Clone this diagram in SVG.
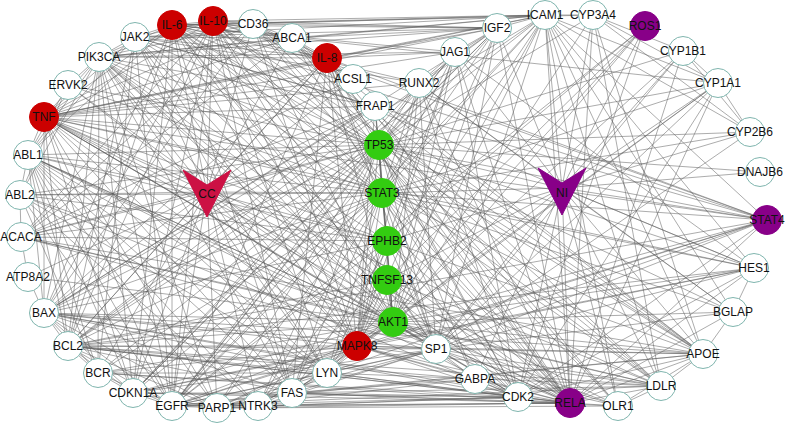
<svg xmlns="http://www.w3.org/2000/svg" width="786" height="423" viewBox="0 0 786 423">
<style>
.e{fill:none;stroke:#5a5a5a;stroke-width:0.6;stroke-opacity:0.85}
.node circle{stroke:#7fb5ae;stroke-width:1;fill:#fff}
.node.red circle{fill:#cc0000;stroke:#cc0000}
.node.green circle{fill:#33cc11;stroke:#33cc11}
.node.purple circle,.node.purple polygon{fill:#880088;stroke:#880088}
.node.crimson polygon{fill:#cc1144;stroke:#cc1144}
text{font-family:"Liberation Sans",Arial,sans-serif;font-size:12px;fill:#111;text-anchor:middle}
</style>
<rect width="786" height="423" fill="#fff"/>
<g id="connectors">
<path class="e" d="M207 192L44 117M207 192L68 85M207 192L99 57M207 192L135 37M207 192L172 25M207 192L213 21M207 192L253 24M207 192L292 38M207 192L327 58M207 192L353 79M207 192L375 106M207 192L28 155M207 192L20 195M207 192L21 237M207 192L28 277M207 192L44 313M207 192L68 346M207 192L98 373M207 192L133 393M207 192L172 406M207 192L217 408M207 192L258 406M207 192L292 393M207 192L327 373M207 192L357 346M207 192L379 145M207 192L382 193M207 192L387 241M207 192L387 280M207 192L393 322"/>
<path class="e" d="M562 188L419 83M562 188L455 52M562 188L497 28M562 188L545 15M562 188L593 15M562 188L645 26M562 188L683 51M562 188L718 83M562 188L750 132M562 188L760 172M562 188L767 220M562 188L754 268M562 188L733 312M562 188L703 354M562 188L661 386M562 188L618 406M562 188L570 403M562 188L518 397M562 188L475 379M562 188L436 349M562 188L379 145M562 188L382 193M562 188L387 241M562 188L387 280M562 188L393 322"/>
<path class="e" d="M44 117L172 25M44 117L213 21M44 117L327 58M44 117L545 15M44 117L497 28M44 117L253 24M44 117L292 38M44 117L135 37M44 117L99 57M44 117L28 155M44 117L44 313M44 117L68 346M44 117L292 393M44 117L357 346M44 117L393 322M44 117L379 145M44 117L382 193M44 117L570 403M44 117L172 406M44 117L133 393M44 117L703 354M44 117L661 386M44 117L767 220M44 117L436 349M44 117L518 397M44 117L217 408M44 117L327 373M44 117L375 106M44 117L754 268M44 117L353 79M44 117L455 52M44 117L419 83M44 117L618 406"/>
<path class="e" d="M172 25L213 21M172 25L327 58M172 25L545 15M172 25L497 28M172 25L135 37M172 25L99 57M172 25L382 193M172 25L379 145M172 25L393 322M172 25L357 346M172 25L570 403M172 25L68 346M172 25L44 313M172 25L172 406M172 25L133 393M172 25L292 393M172 25L767 220M172 25L703 354M172 25L661 386M172 25L436 349M172 25L253 24M172 25L292 38M172 25L718 83M172 25L593 15M172 25L387 280M172 25L754 268M172 25L28 155M172 25L455 52M172 25L419 83"/>
<path class="e" d="M213 21L327 58M213 21L545 15M213 21L497 28M213 21L135 37M213 21L382 193M213 21L767 220M213 21L393 322M213 21L357 346M213 21L570 403M213 21L68 346M213 21L44 313M213 21L292 393M213 21L379 145M213 21L253 24M213 21L292 38M213 21L703 354M213 21L661 386M213 21L172 406M213 21L99 57M213 21L327 373M213 21L21 237M213 21L133 393M213 21L436 349"/>
<path class="e" d="M253 24L545 15M253 24L292 38M253 24L327 58M253 24L703 354M253 24L661 386M253 24L618 406M253 24L353 79M253 24L393 322M253 24L357 346M253 24L570 403M253 24L99 57M253 24L21 237M253 24L44 313M253 24L497 28"/>
<path class="e" d="M292 38L545 15M292 38L497 28M292 38L703 354M292 38L661 386M292 38L618 406M292 38L327 58M292 38L21 237M292 38L570 403M292 38L382 193M292 38L353 79M292 38L135 37M292 38L99 57"/>
<path class="e" d="M327 58L545 15M327 58L497 28M327 58L455 52M327 58L570 403M327 58L382 193M327 58L379 145M327 58L393 322M327 58L357 346M327 58L172 406M327 58L68 346M327 58L99 57M327 58L135 37M327 58L292 393M327 58L518 397M327 58L436 349M327 58L618 406M327 58L703 354M327 58L767 220M327 58L44 313"/>
<path class="e" d="M135 37L382 193M135 37L767 220M135 37L99 57M135 37L393 322M135 37L172 406M135 37L28 155M135 37L327 373M135 37L379 145M135 37L357 346M135 37L545 15M135 37L497 28M135 37L98 373M135 37L419 83M135 37L375 106M135 37L518 397M135 37L68 346"/>
<path class="e" d="M99 57L393 322M99 57L172 406M99 57L375 106M99 57L379 145M99 57L382 193M99 57L357 346M99 57L28 155M99 57L20 195M99 57L327 373M99 57L68 346M99 57L44 313M99 57L133 393M99 57L497 28M99 57L545 15M99 57L570 403M99 57L518 397M99 57L217 408M99 57L387 241M99 57L68 85M99 57L455 52M99 57L292 393M99 57L98 373M99 57L436 349"/>
<path class="e" d="M68 85L28 155M68 85L20 195M68 85L379 145M68 85L382 193M68 85L393 322"/>
<path class="e" d="M28 155L20 195M28 155L98 373M28 155L172 406M28 155L379 145M28 155L393 322M28 155L357 346M28 155L382 193M28 155L327 373M28 155L68 346M28 155L44 313M28 155L133 393M28 155L518 397M28 155L217 408M28 155L387 241M28 155L570 403M28 155L436 349M28 155L258 406M28 155L292 393"/>
<path class="e" d="M20 195L98 373M20 195L172 406M20 195L387 241M20 195L327 373M20 195L382 193M20 195L21 237M20 195L258 406M20 195L518 397M20 195L379 145M20 195L393 322"/>
<path class="e" d="M21 237L28 277M21 237L353 79M21 237L375 106M21 237L393 322M21 237L703 354M21 237L661 386M21 237L436 349M21 237L379 145M21 237L387 241M21 237L382 193M28 277L44 313M28 277L393 322"/>
<path class="e" d="M44 313L68 346M44 313L379 145M44 313L393 322M44 313L357 346M44 313L292 393M44 313L133 393M44 313L217 408M44 313L570 403M44 313L382 193M44 313L436 349M44 313L518 397M44 313L172 406M44 313L327 373M44 313L98 373M44 313L545 15M44 313L497 28M44 313L375 106M44 313L703 354M44 313L387 241"/>
<path class="e" d="M68 346L379 145M68 346L393 322M68 346L357 346M68 346L292 393M68 346L133 393M68 346L217 408M68 346L570 403M68 346L382 193M68 346L436 349M68 346L518 397M68 346L172 406M68 346L327 373M68 346L98 373M68 346L545 15M68 346L497 28M68 346L767 220M68 346L754 268M68 346L661 386M68 346L475 379M68 346L387 280M68 346L375 106"/>
<path class="e" d="M98 373L172 406M98 373L327 373M98 373L382 193M98 373L518 397M98 373L570 403M98 373L393 322M98 373L357 346M98 373L379 145M98 373L133 393"/>
<path class="e" d="M133 393L379 145M133 393L518 397M133 393L393 322M133 393L357 346M133 393L382 193M133 393L172 406M133 393L436 349M133 393L217 408M133 393L570 403M133 393L292 393M133 393L455 52M133 393L419 83M133 393L754 268M133 393L497 28"/>
<path class="e" d="M172 406L393 322M172 406L382 193M172 406L357 346M172 406L379 145M172 406L327 373M172 406L436 349M172 406L518 397M172 406L217 408M172 406L387 241M172 406L258 406M172 406L292 393M172 406L570 403M172 406L545 15M172 406L497 28M172 406L455 52M172 406L419 83M172 406L645 26M172 406L767 220M172 406L703 354M172 406L661 386"/>
<path class="e" d="M217 408L379 145M217 408L393 322M217 408L357 346M217 408L570 403M217 408L436 349M217 408L518 397M217 408L292 393M217 408L327 373M217 408L382 193M217 408L475 379M217 408L618 406"/>
<path class="e" d="M258 406L327 373M258 406L393 322M258 406L357 346M258 406L382 193M258 406L570 403M258 406L518 397M258 406L436 349M258 406L387 241M258 406L645 26M258 406L379 145"/>
<path class="e" d="M292 393L379 145M292 393L393 322M292 393L357 346M292 393L570 403M292 393L436 349M292 393L518 397M292 393L327 373M292 393L382 193M292 393L545 15M292 393L703 354M292 393L661 386M292 393L618 406M292 393L475 379"/>
<path class="e" d="M327 373L393 322M327 373L357 346M327 373L382 193M327 373L436 349M327 373L518 397M327 373L570 403M327 373L387 241M327 373L387 280M327 373L645 26M327 373L767 220M327 373L661 386"/>
<path class="e" d="M357 346L393 322M357 346L379 145M357 346L382 193M357 346L570 403M357 346L436 349M357 346L518 397M357 346L387 241M357 346L475 379M357 346L497 28M357 346L545 15M357 346L455 52M357 346L419 83M357 346L754 268M357 346L703 354M357 346L661 386M357 346L618 406M357 346L767 220M357 346L375 106M357 346L718 83M357 346L683 51"/>
<path class="e" d="M393 322L379 145M393 322L382 193M393 322L570 403M393 322L436 349M393 322L518 397M393 322L375 106M393 322L497 28M393 322L545 15M393 322L455 52M393 322L419 83M393 322L754 268M393 322L703 354M393 322L661 386M393 322L618 406M393 322L767 220M393 322L475 379M393 322L387 241M393 322L718 83M393 322L593 15M393 322L733 312M393 322L645 26M393 322L387 280"/>
<path class="e" d="M379 145L382 193M379 145L570 403M379 145L436 349M379 145L518 397M379 145L375 106M379 145L497 28M379 145L545 15M379 145L455 52M379 145L419 83M379 145L754 268M379 145L703 354M379 145L718 83M379 145L683 51M379 145L750 132M379 145L475 379M379 145L733 312M379 145L767 220M379 145L760 172M379 145L387 241M379 145L593 15"/>
<path class="e" d="M382 193L570 403M382 193L436 349M382 193L518 397M382 193L545 15M382 193L497 28M382 193L455 52M382 193L419 83M382 193L754 268M382 193L767 220M382 193L703 354M382 193L661 386M382 193L733 312M382 193L718 83M382 193L475 379M382 193L387 241M382 193L375 106M382 193L750 132"/>
<path class="e" d="M387 241L387 280M387 241L570 403M387 241L518 397M387 241L436 349M387 241L645 26M387 241L455 52M387 280L393 322M387 280L570 403M387 280L661 386M387 280L436 349"/>
<path class="e" d="M570 403L436 349M570 403L518 397M570 403L545 15M570 403L497 28M570 403L455 52M570 403L419 83M570 403L754 268M570 403L767 220M570 403L703 354M570 403L661 386M570 403L618 406M570 403L718 83M570 403L683 51M570 403L593 15M570 403L475 379M570 403L733 312M570 403L375 106"/>
<path class="e" d="M436 349L518 397M436 349L475 379M436 349L545 15M436 349L497 28M436 349L419 83M436 349L754 268M436 349L703 354M436 349L661 386M436 349L618 406M436 349L718 83M436 349L683 51M436 349L750 132M436 349L733 312M436 349L767 220"/>
<path class="e" d="M518 397L475 379M518 397L419 83M518 397L455 52M518 397L754 268M518 397L645 26M518 397L718 83M518 397L767 220M518 397L703 354"/>
<path class="e" d="M545 15L593 15M545 15L767 220M545 15L703 354M545 15L661 386M545 15L618 406M545 15L497 28M545 15L754 268M545 15L733 312M545 15L750 132M545 15L718 83M593 15L683 51M593 15L718 83M593 15L750 132M593 15L661 386M593 15L703 354M683 51L718 83M683 51L750 132M718 83L750 132M703 354L661 386M703 354L618 406M703 354L733 312M661 386L618 406M754 268L455 52M754 268L733 312M419 83L733 312M419 83L497 28M419 83L455 52M497 28L455 52"/>
</g>
<g id="nodes">
<g id="n-TNF" class="node red"><circle cx="44" cy="117" r="14.5"/><text x="44" y="121">TNF</text></g>
<g id="n-ERVK2" class="node"><circle cx="68" cy="85" r="14.5"/><text x="68" y="89">ERVK2</text></g>
<g id="n-PIK3CA" class="node"><circle cx="99" cy="57" r="14.5"/><text x="99" y="61">PIK3CA</text></g>
<g id="n-JAK2" class="node"><circle cx="135" cy="37" r="14.5"/><text x="135" y="41">JAK2</text></g>
<g id="n-IL-6" class="node red"><circle cx="172" cy="25" r="14.5"/><text x="172" y="29">IL-6</text></g>
<g id="n-IL-10" class="node red"><circle cx="213" cy="21" r="14.5"/><text x="213" y="25">IL-10</text></g>
<g id="n-CD36" class="node"><circle cx="253" cy="24" r="14.5"/><text x="253" y="28">CD36</text></g>
<g id="n-ABCA1" class="node"><circle cx="292" cy="38" r="14.5"/><text x="292" y="42">ABCA1</text></g>
<g id="n-IL-8" class="node red"><circle cx="327" cy="58" r="14.5"/><text x="327" y="62">IL-8</text></g>
<g id="n-ACSL1" class="node"><circle cx="353" cy="79" r="14.5"/><text x="353" y="83">ACSL1</text></g>
<g id="n-FRAP1" class="node"><circle cx="375" cy="106" r="14.5"/><text x="375" y="110">FRAP1</text></g>
<g id="n-RUNX2" class="node"><circle cx="419" cy="83" r="14.5"/><text x="419" y="87">RUNX2</text></g>
<g id="n-JAG1" class="node"><circle cx="455" cy="52" r="14.5"/><text x="455" y="56">JAG1</text></g>
<g id="n-IGF2" class="node"><circle cx="497" cy="28" r="14.5"/><text x="497" y="32">IGF2</text></g>
<g id="n-ICAM1" class="node"><circle cx="545" cy="15" r="14.5"/><text x="545" y="19">ICAM1</text></g>
<g id="n-CYP3A4" class="node"><circle cx="593" cy="15" r="14.5"/><text x="593" y="19">CYP3A4</text></g>
<g id="n-ROS1" class="node purple"><circle cx="645" cy="26" r="14.5"/><text x="645" y="30">ROS1</text></g>
<g id="n-CYP1B1" class="node"><circle cx="683" cy="51" r="14.5"/><text x="683" y="55">CYP1B1</text></g>
<g id="n-CYP1A1" class="node"><circle cx="718" cy="83" r="14.5"/><text x="718" y="87">CYP1A1</text></g>
<g id="n-CYP2B6" class="node"><circle cx="750" cy="132" r="14.5"/><text x="750" y="136">CYP2B6</text></g>
<g id="n-DNAJB6" class="node"><circle cx="760" cy="172" r="14.5"/><text x="760" y="176">DNAJB6</text></g>
<g id="n-STAT4" class="node purple"><circle cx="767" cy="220" r="14.5"/><text x="767" y="224">STAT4</text></g>
<g id="n-HES1" class="node"><circle cx="754" cy="268" r="14.5"/><text x="754" y="272">HES1</text></g>
<g id="n-BGLAP" class="node"><circle cx="733" cy="312" r="14.5"/><text x="733" y="316">BGLAP</text></g>
<g id="n-APOE" class="node"><circle cx="703" cy="354" r="14.5"/><text x="703" y="358">APOE</text></g>
<g id="n-LDLR" class="node"><circle cx="661" cy="386" r="14.5"/><text x="661" y="390">LDLR</text></g>
<g id="n-OLR1" class="node"><circle cx="618" cy="406" r="14.5"/><text x="618" y="410">OLR1</text></g>
<g id="n-RELA" class="node purple"><circle cx="570" cy="403" r="14.5"/><text x="570" y="407">RELA</text></g>
<g id="n-CDK2" class="node"><circle cx="518" cy="397" r="14.5"/><text x="518" y="401">CDK2</text></g>
<g id="n-GABPA" class="node"><circle cx="475" cy="379" r="14.5"/><text x="475" y="383">GABPA</text></g>
<g id="n-SP1" class="node"><circle cx="436" cy="349" r="14.5"/><text x="436" y="353">SP1</text></g>
<g id="n-AKT1" class="node green"><circle cx="393" cy="322" r="14.5"/><text x="393" y="326">AKT1</text></g>
<g id="n-MAPK8" class="node red"><circle cx="357" cy="346" r="14.5"/><text x="357" y="350">MAPK8</text></g>
<g id="n-LYN" class="node"><circle cx="327" cy="373" r="14.5"/><text x="327" y="377">LYN</text></g>
<g id="n-FAS" class="node"><circle cx="292" cy="393" r="14.5"/><text x="292" y="397">FAS</text></g>
<g id="n-NTRK3" class="node"><circle cx="258" cy="406" r="14.5"/><text x="258" y="410">NTRK3</text></g>
<g id="n-PARP1" class="node"><circle cx="217" cy="408" r="14.5"/><text x="217" y="412">PARP1</text></g>
<g id="n-EGFR" class="node"><circle cx="172" cy="406" r="14.5"/><text x="172" y="410">EGFR</text></g>
<g id="n-CDKN1A" class="node"><circle cx="133" cy="393" r="14.5"/><text x="133" y="397">CDKN1A</text></g>
<g id="n-BCR" class="node"><circle cx="98" cy="373" r="14.5"/><text x="98" y="377">BCR</text></g>
<g id="n-BCL2" class="node"><circle cx="68" cy="346" r="14.5"/><text x="68" y="350">BCL2</text></g>
<g id="n-BAX" class="node"><circle cx="44" cy="313" r="14.5"/><text x="44" y="317">BAX</text></g>
<g id="n-ATP8A2" class="node"><circle cx="28" cy="277" r="14.5"/><text x="28" y="281">ATP8A2</text></g>
<g id="n-ACACA" class="node"><circle cx="21" cy="237" r="14.5"/><text x="21" y="241">ACACA</text></g>
<g id="n-ABL2" class="node"><circle cx="20" cy="195" r="14.5"/><text x="20" y="199">ABL2</text></g>
<g id="n-ABL1" class="node"><circle cx="28" cy="155" r="14.5"/><text x="28" y="159">ABL1</text></g>
<g id="n-TP53" class="node green"><circle cx="379" cy="145" r="14.5"/><text x="379" y="149">TP53</text></g>
<g id="n-STAT3" class="node green"><circle cx="382" cy="193" r="14.5"/><text x="382" y="197">STAT3</text></g>
<g id="n-EPHB2" class="node green"><circle cx="387" cy="241" r="14.5"/><text x="387" y="245">EPHB2</text></g>
<g id="n-TNFSF13" class="node green"><circle cx="387" cy="280" r="14.5"/><text x="387" y="284">TNFSF13</text></g>
<g id="n-CC" class="node crimson"><polygon points="183,170 207,185 231,170 207,217"/><text x="207" y="198">CC</text></g>
<g id="n-NI" class="node purple"><polygon points="538,168 562,183 586,168 562,215"/><text x="562" y="197">NI</text></g>
</g>
</svg>
